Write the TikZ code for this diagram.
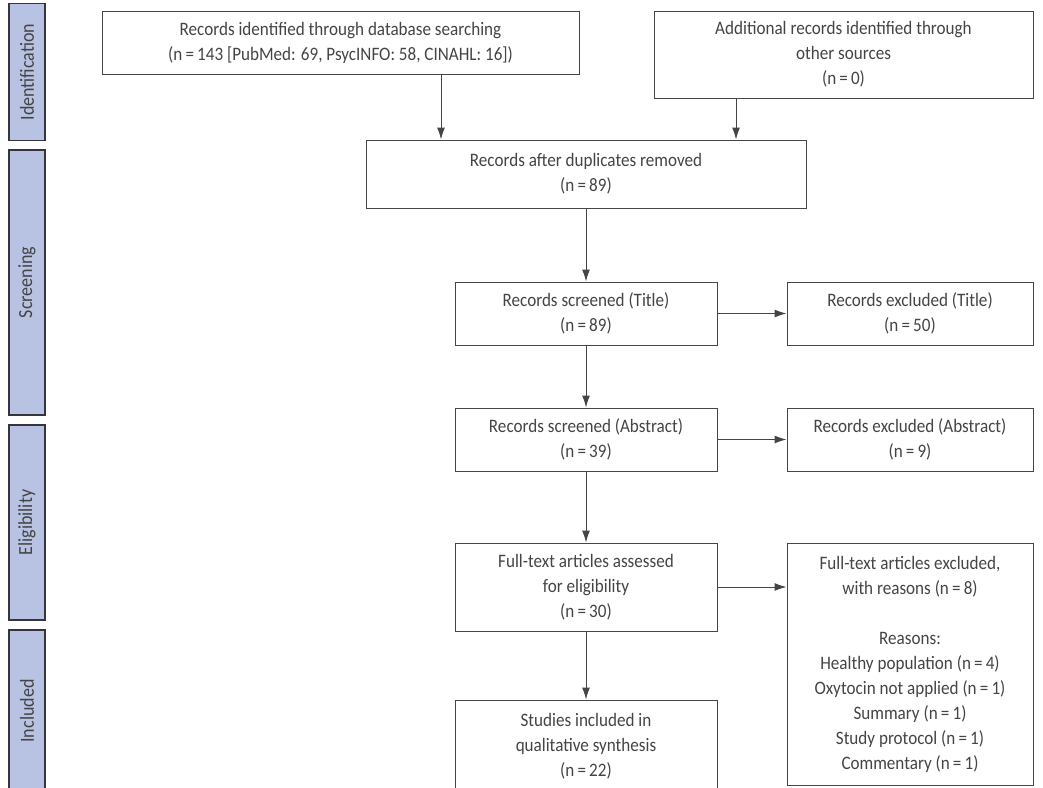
\documentclass[tikz,border=0pt]{standalone}
\usepackage{fontspec}
\setmainfont{Carlito}[FakeStretch=0.9]
\usetikzlibrary{arrows.meta,positioning}
\definecolor{linegray}{HTML}{454545}
\definecolor{textgray}{HTML}{444444}
\definecolor{barblue}{HTML}{B8C3E3}
\definecolor{bardark}{HTML}{33363F}

\begin{document}
\begin{tikzpicture}[x=1pt,y=-1pt,
box/.style={rectangle, draw=linegray, line width=1pt, align=center, inner sep=0pt, text=textgray, font=\fontsize{19}{25}\selectfont},
phase/.style={rectangle, draw=bardark, fill=barblue, line width=1.4pt, rotate=90, minimum height=36pt, inner sep=0pt, text=textgray, font=\fontsize{20}{20}\selectfont},
flow/.style={draw=linegray, line width=1pt, -{Latex[length=12pt,width=8pt]}},
]
\useasboundingbox (0,0) rectangle (1043,787);

\node at (27,72) [phase, minimum width=137pt](identification){Identification};
\node at (27,282.5) [phase, minimum width=265pt](screening){Screening};
\node at (27,522.5) [phase, minimum width=195pt](eligibility){Eligibility};
\node at (27,711) [phase, minimum width=162pt](included){Included};

\node at (340.5,42.5) [box, minimum width=477pt, minimum height=63pt](database){Records identified through database searching\\(n\,=\,143 [PubMed: 69, PsycINFO: 58, CINAHL: 16])};
\node at (843.5,54.5) [box, minimum width=379pt, minimum height=87pt](other){Additional records identified through\\other sources\\(n\,=\,0)};

\node at (586,174) [box, minimum width=440pt, minimum height=68pt](duplicates){Records after duplicates removed\\(n\,=\,89)};
\coordinate (left_in) at (441,0);
\coordinate (right_in) at (736,0);
\draw[flow] (database.south -| left_in) -- (duplicates.north -| left_in);
\draw[flow] (other.south -| right_in) -- (duplicates.north -| right_in);

\node at (586,313.5) [box, minimum width=262pt, minimum height=63pt](screen_title){Records screened (Title)\\(n\,=\,89)};
\node at (910,313.5) [box, minimum width=246pt, minimum height=63pt](excl_title){Records excluded (Title)\\(n\,=\,50)};
\draw[flow] (duplicates.south) -- (screen_title.north);
\draw[flow] (screen_title.east) -- (excl_title.west);

\node at (586,439.5) [box, minimum width=262pt, minimum height=63pt](screen_abstract){Records screened (Abstract)\\(n\,=\,39)};
\node at (910,439.5) [box, minimum width=246pt, minimum height=63pt](excl_abstract){Records excluded (Abstract)\\(n\,=\,9)};
\draw[flow] (screen_title.south) -- (screen_abstract.north);
\draw[flow] (screen_abstract.east) -- (excl_abstract.west);

\node at (586,587) [box, minimum width=262pt, minimum height=88pt](fulltext){Full-text articles assessed\\for eligibility\\(n\,=\,30)};
\node at (910,664) [box, minimum width=246pt, minimum height=242pt](excl_full){Full-text articles excluded,\\with reasons (n\,=\,8)\\[25pt]Reasons:\\Healthy population (n\,=\,4)\\Oxytocin not applied (n\,=\,1)\\Summary (n\,=\,1)\\Study protocol (n\,=\,1)\\Commentary (n\,=\,1)};
\draw[flow] (screen_abstract.south) -- (fulltext.north);
\draw[flow] (fulltext.east) -- (fulltext.east -| excl_full.west);

\node at (586,746) [box, minimum width=262pt, minimum height=92pt](studies){Studies included in\\qualitative synthesis\\(n\,=\,22)};
\draw[flow] (fulltext.south) -- (studies.north);

\end{tikzpicture}
\end{document}
